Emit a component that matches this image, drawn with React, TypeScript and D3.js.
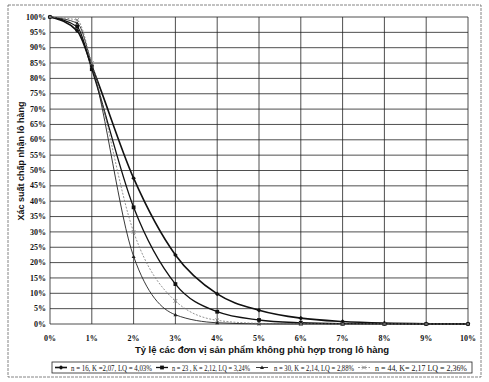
import React from "react";
import * as d3 from "d3";

const xValues = [0, 0.65, 1, 2, 3, 4, 5, 6, 7, 8, 9, 10];
const seriesN16 = [100, 95.5, 84, 47.5, 22.5, 9.8, 4.5, 1.9, 0.8, 0.3, 0.1, 0.05];
const seriesN23 = [100, 96.8, 83, 38, 13, 4, 1.3, 0.4, 0.1, 0.03, 0, 0];
const seriesN30 = [100, 98, 84.5, 22, 3, 0.4, 0.05, 0, 0, 0, 0, 0];
const seriesN44 = [100, 99, 85, 30, 7.5, 1.2, 0.2, 0, 0, 0, 0, 0];
const legendLabels = [
  "n = 16, K =2,07, LQ = 4,03%",
  "n = 23 , K = 2,12, LQ = 3,24%",
  "n = 30, K = 2,14, LQ = 2,88%",
  "n = 44, K= 2,17 LQ = 2,36%",
];
const xTicks = [0, 1, 2, 3, 4, 5, 6, 7, 8, 9, 10];
const yTicks = d3.range(0, 101, 5);

const W = 489;
const H = 382;

export default function App() {
  const x = d3.scaleLinear().domain([0, 10]).range([50, 468]);
  const y = d3.scaleLinear().domain([0, 100]).range([324, 17]);
  const line = d3
    .line<[number, number]>()
    .x((d) => x(d[0]))
    .y((d) => y(d[1]))
    .curve(d3.curveMonotoneX);

  const series = [
    { data: seriesN16, stroke: "#111", width: 1.6, dash: "", marker: "diamond" },
    { data: seriesN23, stroke: "#111", width: 1.3, dash: "", marker: "square" },
    { data: seriesN30, stroke: "#222", width: 0.9, dash: "", marker: "triangle" },
    { data: seriesN44, stroke: "#777", width: 0.8, dash: "2,1.5", marker: "x" },
  ];

  const marker = (type: string, cx: number, cy: number, color: string, key: string) => {
    if (type === "diamond")
      return (
        <path key={key} d={`M${cx},${cy - 2.3}L${cx + 2.3},${cy}L${cx},${cy + 2.3}L${cx - 2.3},${cy}Z`} fill={color} />
      );
    if (type === "square")
      return <rect key={key} x={cx - 1.9} y={cy - 1.9} width={3.8} height={3.8} fill={color} />;
    if (type === "triangle")
      return <path key={key} d={`M${cx},${cy - 2}L${cx + 2},${cy + 1.5}L${cx - 2},${cy + 1.5}Z`} fill={color} />;
    return (
      <path
        key={key}
        d={`M${cx - 1.8},${cy - 1.8}L${cx + 1.8},${cy + 1.8}M${cx - 1.8},${cy + 1.8}L${cx + 1.8},${cy - 1.8}`}
        stroke={color}
        strokeWidth={0.9}
      />
    );
  };

  const legendPos = [
    { mx: 55, tx: 71, len: 81 },
    { mx: 156, tx: 172, len: 78 },
    { mx: 256, tx: 274, len: 80 },
    { mx: 358, tx: 375, len: 92 },
  ];

  return (
    <svg width={W} height={H} style={{ position: "absolute", left: 0, top: 0, background: "#fff" }}>
      <rect x={0} y={0} width={W} height={H} fill="#fff" />
      <rect x={8} y={5} width={473} height={372} fill="none" stroke="#666" strokeWidth={0.8} strokeDasharray="3,1" />
      {/* grid */}
      {yTicks.map((t) => (
        <line key={"h" + t} x1={x(0)} x2={x(10)} y1={y(t)} y2={y(t)} stroke="#222" strokeWidth={0.8} />
      ))}
      {xTicks.map((t) => (
        <line key={"v" + t} x1={x(t)} x2={x(t)} y1={y(0)} y2={y(100)} stroke="#222" strokeWidth={0.8} />
      ))}
      {/* y tick labels */}
      {yTicks.map((t) => (
        <text
          key={"yl" + t}
          x={46}
          y={y(t)}
          dy="0.33em"
          textAnchor="end"
          fontFamily="Liberation Serif, serif"
          fontSize={8}
          fontWeight="bold"
          fill="#111"
        >
          {t + "%"}
        </text>
      ))}
      {/* x tick labels */}
      {xTicks.map((t) => (
        <text
          key={"xl" + t}
          x={x(t)}
          y={341}
          textAnchor="middle"
          fontFamily="Liberation Serif, serif"
          fontSize={8}
          fontWeight="bold"
          fill="#111"
        >
          {t + "%"}
        </text>
      ))}
      {/* series */}
      {series.map((s, i) => {
        const pts: [number, number][] = xValues.map((v, j) => [v, s.data[j]]);
        return (
          <g key={"s" + i}>
            <path d={line(pts) || ""} fill="none" stroke={s.stroke} strokeWidth={s.width} strokeDasharray={s.dash} />
            {pts.map((p, j) => marker(s.marker, x(p[0]), y(p[1]), s.stroke, `m${i}-${j}`))}
          </g>
        );
      })}
      {/* axis titles */}
      <text
        x={262}
        y={353}
        textAnchor="middle"
        fontFamily="Liberation Sans, Arial, sans-serif"
        fontWeight="bold"
        fontSize={9.5}
        fill="#111"
      >
        Tỷ lệ các đơn vị sản phẩm không phù hợp trong lô hàng
      </text>
      <text
        transform="translate(24,161) rotate(-90)"
        textAnchor="middle"
        fontFamily="Liberation Sans, Arial, sans-serif"
        fontWeight="bold"
        fontSize={9}
        fill="#111"
      >
        Xác suất chấp nhận lô hàng
      </text>
      {/* legend */}
      <rect x={52} y={362} width={420} height={11} fill="#fff" stroke="#222" strokeWidth={0.8} />
      {series.map((s, i) => (
        <g key={"lg" + i}>
          <line
            x1={legendPos[i].mx}
            x2={legendPos[i].mx + 12}
            y1={367.5}
            y2={367.5}
            stroke={s.stroke}
            strokeWidth={s.width}
            strokeDasharray={s.dash}
          />
          {marker(s.marker, legendPos[i].mx + 6, 367.5, s.stroke, "lm" + i)}
          <text
            x={legendPos[i].tx}
            y={370.5}
            fontFamily="Liberation Serif, serif"
            fontSize={7.5}
            textLength={legendPos[i].len}
            lengthAdjust="spacingAndGlyphs"
            fill="#111"
          >
            {legendLabels[i]}
          </text>
        </g>
      ))}
    </svg>
  );
}
